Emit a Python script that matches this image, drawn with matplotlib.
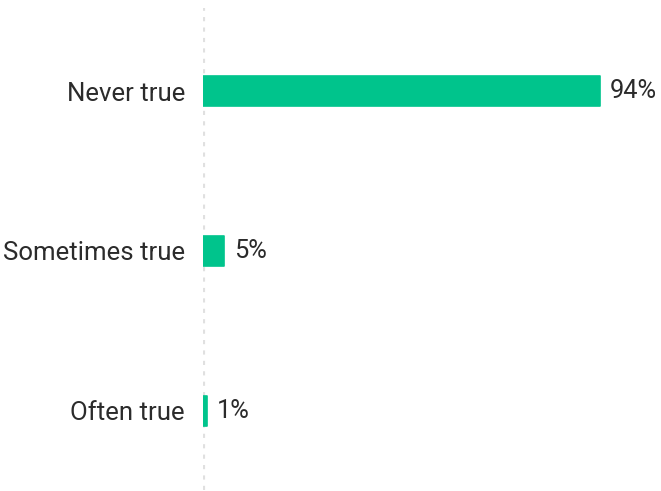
import matplotlib.pyplot as plt

categorias = ["Never true", "Sometimes true", "Often true"]
valores = [94, 5, 1]
etiquetas = ["94%", "5%", "1%"]

plt.rcParams['font.family'] = ['Roboto', 'DejaVu Sans']

fig = plt.figure(figsize=(6.61, 4.91), dpi=100)
ax = fig.add_axes([203 / 661, 1 / 491, 458 / 661, 482 / 491])

verde = '#00C48C'
posiciones = list(range(len(categorias)))

# linea punteada en cero
ax.axvline(0, color='#e0e0e0', linewidth=3, linestyle=(0, (1, 1.5)), zorder=1)

barras = ax.barh(posiciones, valores, height=0.19, color=verde,
                 edgecolor=verde, linewidth=1.2, zorder=2)
for b in barras:
    b.set_joinstyle('round')

# etiquetas de valor
for pos, val, txt in zip(posiciones, valores, etiquetas):
    ax.annotate(txt, xy=(val, pos), xytext=(10, 0), textcoords='offset pixels',
                ha='left', va='center', fontsize=18.3, color='#2b2b2b')

ax.set_xlim(0, 108.4)
ax.set_ylim(2.494, -0.519)
ax.set_yticks(posiciones)
ax.set_yticklabels(categorias, fontsize=18.5, color='#2b2b2b')
ax.tick_params(axis='y', length=0, pad=13)
ax.set_xticks([])

for lado in ['top', 'right', 'left', 'bottom']:
    ax.spines[lado].set_visible(False)

fig.savefig('out.png', dpi=100)
